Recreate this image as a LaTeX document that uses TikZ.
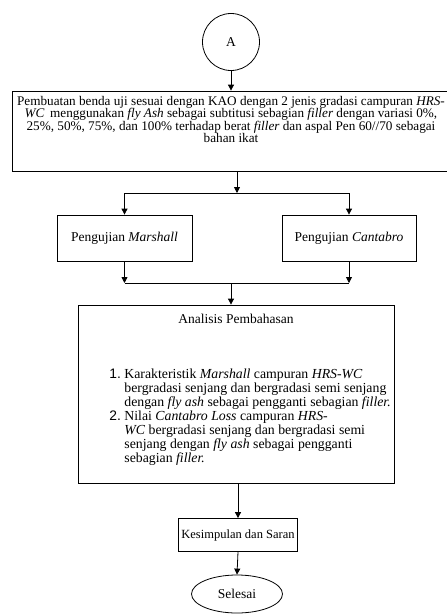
\documentclass[tikz,border=0pt]{standalone}
\usepackage{fontspec}
\setmainfont{Liberation Serif}
\newfontfamily\numfont{Liberation Sans}
\usetikzlibrary{arrows.meta,shapes.geometric}
\tikzset{
  arr/.style={-{Triangle[length=6pt,width=6pt]}},
  box/.style={draw, line width=0.8pt, inner sep=0pt, font=\fontsize{13.5}{12.3}\selectfont},
}
\begin{document}
\begin{tikzpicture}[x=1pt,y=-1pt,line width=0.8pt]
\useasboundingbox (0,0) rectangle (447,614);
\fill[white] (0,0) rectangle (447,614);
% start connector
\node[box, circle, minimum size=57pt] (A) at (231,42) {A};
% big box
\node[box, minimum width=438pt, minimum height=80pt] (B) at (231,131) {};
\node[inner sep=0pt, align=center, anchor=north, font=\fontsize{13.2}{12.4}\selectfont] (Bt) at (231,96)
 {Pembuatan benda uji sesuai dengan KAO dengan 2 jenis gradasi campuran \textit{HRS-}\\
  \textit{WC}\, menggunakan \textit{fly Ash} sebagai subtitusi sebagian \textit{filler} dengan variasi 0\%,\\
  25\%, 50\%, 75\%, dan 100\% terhadap berat \textit{filler} dan aspal Pen 60//70 sebagai\\
  bahan ikat};
% tests
\node[box, minimum width=135pt, minimum height=46pt] (M) at (124.5,238) {Pengujian \textit{Marshall}};
\node[box, minimum width=134pt, minimum height=46pt] (C) at (349,238) {Pengujian \textit{Cantabro}};
% analysis
\node[box, minimum width=316pt, minimum height=178pt] (P) at (236,394) {};
\node[font=\fontsize{13.5}{12.3}\selectfont, inner sep=0pt] (Pt) at (236,319) {Analisis Pembahasan};
\node[font=\fontsize{13.8}{14}\selectfont, inner sep=0pt, align=left, anchor=north west] (Pl) at (124,369)
 {\llap{\numfont 1.\hspace{3.5pt}}Karakteristik \textit{Marshall} campuran \textit{HRS-WC}\\
  bergradasi senjang dan bergradasi semi senjang\\
  dengan \textit{fly ash} sebagai pengganti sebagian \textit{filler.}\\
  \llap{\numfont 2.\hspace{3.5pt}}Nilai \textit{Cantabro Loss} campuran \textit{HRS-}\\
  \textit{WC} bergradasi senjang dan bergradasi semi\\
  senjang dengan \textit{fly ash} sebagai pengganti\\
  sebagian \textit{filler.}};
% conclusion
\node[box, minimum width=119pt, minimum height=33pt, font=\fontsize{12.5}{12}\selectfont] (K) at (238,535) {Kesimpulan dan Saran};
\node[box, ellipse, minimum width=91pt, minimum height=38pt] (S) at (237,594) {Selesai};
% junction coordinates
\coordinate (s1) at (237,193);
\coordinate (s2) at (231,283);
% connectors
\draw[arr] (A.south) -- (A.south |- B.north);
\draw[arr] (B.south -| s1) -- (s1);
\draw (M.north |- s1) -- (C.north |- s1);
\draw[arr] (M.north |- s1) -- (M.north);
\draw[arr] (C.north |- s1) -- (C.north);
\draw[arr] (M.south) -- (M.south |- s2);
\draw[arr] (C.south) -- (C.south |- s2);
\draw (M.south |- s2) -- (C.south |- s2);
\draw[arr] (s2) -- (s2 |- P.north);
\draw[arr] (P.south -| K.north) -- (K.north);
\draw[arr] (K.south) -- (S.north);
\end{tikzpicture}
\end{document}
